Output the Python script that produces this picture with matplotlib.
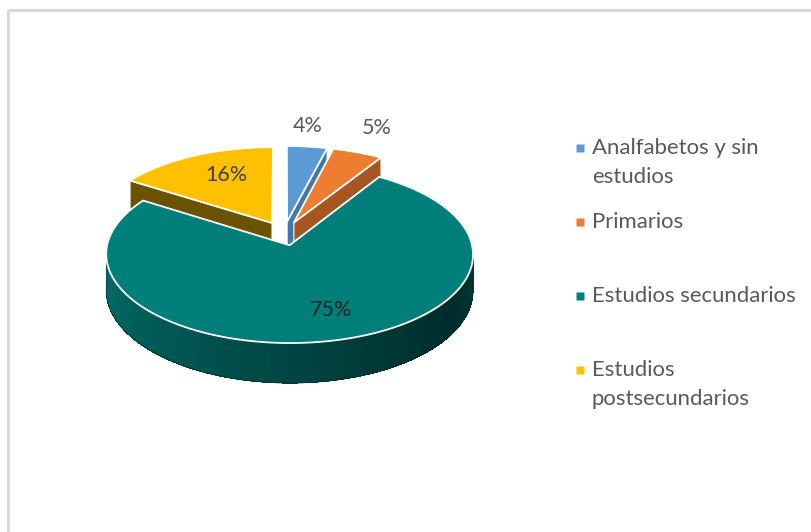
import matplotlib.pyplot as plt
import numpy as np
from matplotlib.patches import Polygon, Rectangle
from matplotlib.colors import to_rgb

# Data
categories = ['Analfabetos y sin\nestudios', 'Primarios', 'Estudios secundarios', 'Estudios\npostsecundarios']
values = [4, 5, 75, 16]
top_colors = ['#5B9BD5', '#ED7D31', '#007F7A', '#FFC000']
wall_colors = ['#3F78AD', '#A65620', '#00524F', '#6B5200']

# Projection of the tilted disc (screen pixels, y down)
cx, cy = 284, 233.4
A, B, K, DEPTH = 180, 85.5, 0.1, 35.5
explode = 0.14


def proj(u, v, h=0.0):
    s = 1 + K * v
    return cx + A * u / s, cy - (B * v + DEPTH * h) / s


fig = plt.figure(figsize=(8.12, 5.32), dpi=100)
ax = fig.add_axes([0, 0, 1, 1])
ax.set_xlim(0, 812)
ax.set_ylim(532, 0)
ax.axis('off')

# chart border
ax.add_patch(Rectangle((8, 10), 900, 600, fill=False, edgecolor='#D9D9D9', lw=2.2))

total = sum(values)
bounds = np.concatenate([[0], np.cumsum(values)]) / total * 360
slices = []
for i, val in enumerate(values):
    a0, a1 = bounds[i], bounds[i + 1]
    mid = np.radians((a0 + a1) / 2)
    du, dv = explode * np.sin(mid), explode * np.cos(mid)
    slices.append((a0, a1, du, dv))

# walls first
c_left = np.array(to_rgb('#00706C'))
c_dark = np.array(to_rgb('#002C2A'))
c_right = np.array(to_rgb('#003A37'))
for i, (a0, a1, du, dv) in enumerate(slices):
    # radial walls
    for ang, sign in ((a0, -1), (a1, 1)):
        t = np.radians(ang)
        nv = -sign * np.sin(t)  # v-component of the wall normal
        if nv >= -1e-6:
            continue
        pts = [proj(du, dv, 0), proj(du + np.sin(t), dv + np.cos(t), 0),
               proj(du + np.sin(t), dv + np.cos(t), -1), proj(du, dv, -1)]
        ax.add_patch(Polygon(pts, closed=True, facecolor=wall_colors[i],
                             edgecolor='white', lw=0.8, zorder=2))
    # outer rim (front half only), shaded in thin strips
    lo, hi = max(a0, 90), min(a1, 270)
    if hi > lo:
        th = np.radians(np.linspace(lo, hi, 240))
        for j in range(len(th) - 1):
            t0, t1 = th[j], min(th[j + 1] + 0.004, th[-1])
            q = [proj(du + np.sin(t0), dv + np.cos(t0), 0), proj(du + np.sin(t1), dv + np.cos(t1), 0),
                 proj(du + np.sin(t1), dv + np.cos(t1), -1), proj(du + np.sin(t0), dv + np.cos(t0), -1)]
            deg = np.degrees(t0)
            if i == 2:
                if deg < 125:
                    f = (deg - 90) / 35
                    col = c_right * (1 - f) + c_dark * f
                else:
                    f = (deg - 125) / 145
                    col = c_dark * (1 - f) + c_left * f
            else:
                col = to_rgb(wall_colors[i])
            ax.add_patch(Polygon(q, closed=True, facecolor=col, edgecolor='none',
                                 lw=0, antialiased=False, zorder=2))
        # smooth outline of the rim silhouette
        bot = [proj(du + np.sin(t), dv + np.cos(t), -1) for t in th]
        top = [proj(du + np.sin(t), dv + np.cos(t), 0) for t in th[::-1]]
        ax.add_patch(Polygon(bot + top, closed=True, facecolor='none',
                             edgecolor=tuple(c_dark), lw=0.5, zorder=2.2))

# tops
for i, (a0, a1, du, dv) in enumerate(slices):
    th = np.radians(np.linspace(a0, a1, 200))
    pts = [proj(du, dv)] + [proj(du + np.sin(t), dv + np.cos(t)) for t in th]
    ax.add_patch(Polygon(pts, closed=True, facecolor=top_colors[i],
                         edgecolor='white', lw=1.3, joinstyle='round', zorder=3))

# data labels
label_r = [1.30, 1.38, 0.72, 0.67]
label_ang = [5.9, 22.6, 163.1, 335.5]
label_colors = ['#595959', '#595959', '#262626', '#404040']
for i, (a0, a1, du, dv) in enumerate(slices):
    t = np.radians(label_ang[i])
    x, y = proj(du + label_r[i] * np.sin(t), dv + label_r[i] * np.cos(t))
    ax.text(x, y, f'{values[i]}%', ha='center', va='center', fontsize=15.5,
            family='Lato', color=label_colors[i], zorder=5)

# legend
leg_y = [148, 222, 296, 370]
line_gap = 29
for i, name in enumerate(categories):
    ax.plot(580, leg_y[i], marker='s', markersize=5.5, color=top_colors[i], mec='none')
    for k, line in enumerate(name.split('\n')):
        ax.text(592, leg_y[i] + k * line_gap, line, ha='left', va='center',
                fontsize=15.9, family='Lato', color='#595959')

fig.savefig('out.png', dpi=100)
